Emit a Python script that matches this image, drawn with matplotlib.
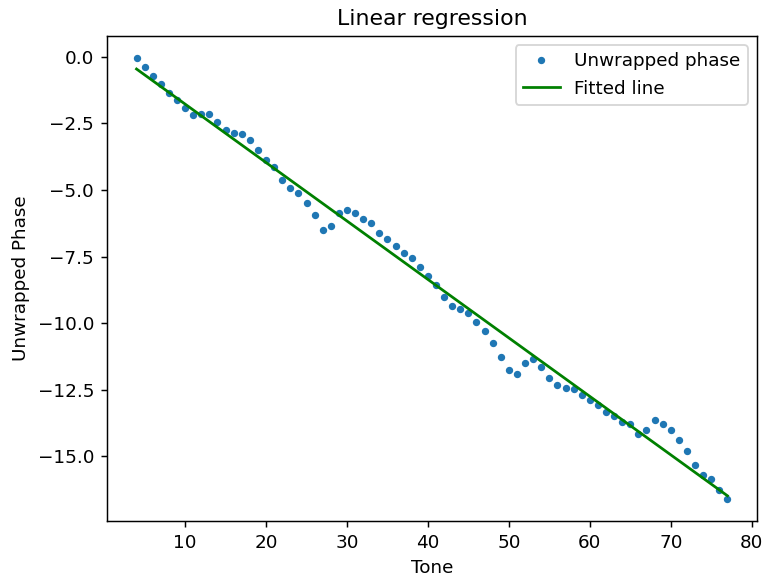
import matplotlib.pyplot as plt
import numpy as np

# tone index and unwrapped phase per tone
tones = np.arange(4, 78)
phase = [-0.04, -0.38, -0.71, -1.02, -1.37, -1.62, -1.92, -2.17, -2.14, -2.14,
         -2.44, -2.74, -2.84, -2.89, -3.13, -3.48, -3.87, -4.12, -4.62, -4.91,
         -5.12, -5.50, -5.94, -6.50, -6.35, -5.85, -5.76, -5.85, -6.10, -6.25,
         -6.60, -6.84, -7.09, -7.38, -7.54, -7.88, -8.23, -8.57, -9.01, -9.36,
         -9.46, -9.61, -9.95, -10.30, -10.74, -11.28, -11.77, -11.92, -11.48, -11.33,
         -11.63, -12.07, -12.32, -12.42, -12.47, -12.71, -12.87, -13.06, -13.35, -13.50,
         -13.71, -13.80, -14.15, -14.03, -13.65, -13.80, -14.00, -14.39, -14.79, -15.33,
         -15.71, -15.86, -16.25, -16.60]

slope, intercept = np.polyfit(tones, phase, 1)

dpi = 132
fig = plt.figure(figsize=(763 / dpi, 577 / dpi), dpi=dpi)
ax = fig.add_axes([0.1402, 0.0971, 0.8519, 0.8406])
ax.plot(tones, phase, '.', label='Unwrapped phase')
ax.plot(tones, slope * tones + intercept, color='green', label='Fitted line')
ax.set_title('Linear regression')
ax.set_xlabel('Tone')
ax.set_ylabel('Unwrapped Phase')
ax.legend()
fig.savefig('out.png', dpi=dpi)
